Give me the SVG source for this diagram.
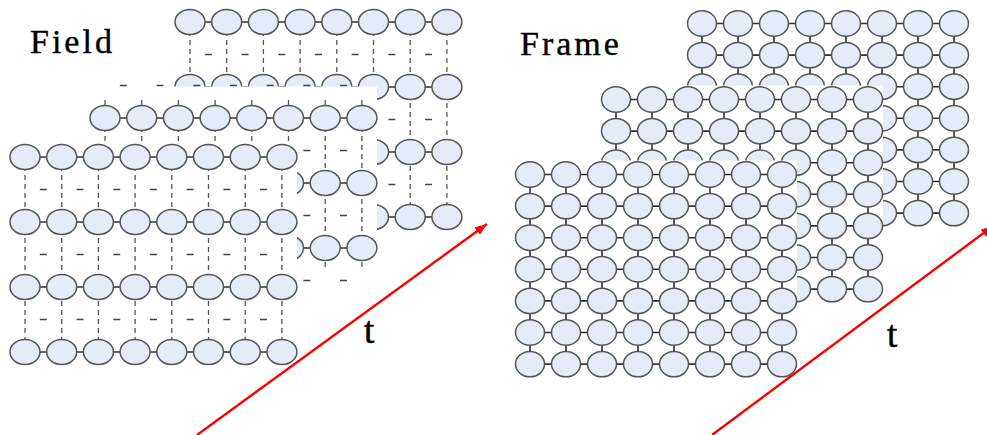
<svg xmlns="http://www.w3.org/2000/svg" xmlns:xlink="http://www.w3.org/1999/xlink" width="987" height="435" viewBox="0 0 987 435">
  <style>
    .bg { fill: #ffffff; }
    .node { fill: #e5ecf7; stroke: #555555; stroke-width: 1.5; }
    .link { fill: none; stroke: #2e2e2e; stroke-width: 1.6; }
    .vdash { fill: none; stroke: #555555; stroke-width: 1.3; stroke-dasharray: 5 4; }
    .hdash { fill: none; stroke: #444444; stroke-width: 1.6; }
    .label { font-family: "Liberation Serif", "Times New Roman", serif; font-size: 34px; fill: #000000; stroke: #000000; stroke-width: 0.4; letter-spacing: 3px; }
    .tlabel { font-family: "Liberation Serif", "Times New Roman", serif; font-size: 37px; fill: #000000; stroke: #000000; stroke-width: 0.5; }
    .arrow { fill: none; stroke: #ff0000; stroke-width: 2.4; }
  </style>
  <defs>
    <marker id="head" markerUnits="userSpaceOnUse" markerWidth="14" markerHeight="10" refX="12" refY="4.5" orient="auto">
      <path d="M0,0 L12,4.5 L0,9 z" fill="#ff0000"/>
    </marker>

    <!-- one row of the field lattice: 8 samples joined by solid links -->
    <g id="field-row">
      <line class="link" x1="0" y1="0" x2="256.9" y2="0"/>
      <ellipse class="node" cx="0" cy="0" rx="15" ry="12.5"/>
      <ellipse class="node" cx="36.7" cy="0" rx="15" ry="12.5"/>
      <ellipse class="node" cx="73.4" cy="0" rx="15" ry="12.5"/>
      <ellipse class="node" cx="110.1" cy="0" rx="15" ry="12.5"/>
      <ellipse class="node" cx="146.8" cy="0" rx="15" ry="12.5"/>
      <ellipse class="node" cx="183.5" cy="0" rx="15" ry="12.5"/>
      <ellipse class="node" cx="220.2" cy="0" rx="15" ry="12.5"/>
      <ellipse class="node" cx="256.9" cy="0" rx="15" ry="12.5"/>
    </g>
    <!-- missing (other-field) lines shown as short dashes between columns -->
    <path id="field-gap" class="hdash" d="M14.85 0h7M51.55 0h7M88.25 0h7M124.95 0h7M161.65 0h7M198.35 0h7M235.05 0h7"/>

    <!-- one row of the frame lattice -->
    <g id="frame-row">
      <line class="link" x1="0" y1="0" x2="252" y2="0"/>
      <ellipse class="node" cx="0" cy="0" rx="14.5" ry="12.7"/>
      <ellipse class="node" cx="36" cy="0" rx="14.5" ry="12.7"/>
      <ellipse class="node" cx="72" cy="0" rx="14.5" ry="12.7"/>
      <ellipse class="node" cx="108" cy="0" rx="14.5" ry="12.7"/>
      <ellipse class="node" cx="144" cy="0" rx="14.5" ry="12.7"/>
      <ellipse class="node" cx="180" cy="0" rx="14.5" ry="12.7"/>
      <ellipse class="node" cx="216" cy="0" rx="14.5" ry="12.7"/>
      <ellipse class="node" cx="252" cy="0" rx="14.5" ry="12.7"/>
    </g>
    <!-- full 8 x 7 frame with white backing -->
    <g id="frame-layer">
      <rect class="bg" x="-15" y="-14" width="282" height="217.6"/>
      <path class="link" d="M0 0V189.6M36 0V189.6M72 0V189.6M108 0V189.6M144 0V189.6M180 0V189.6M216 0V189.6M252 0V189.6"/>
      <use xlink:href="#frame-row" y="0"/>
      <use xlink:href="#frame-row" y="31.6"/>
      <use xlink:href="#frame-row" y="63.2"/>
      <use xlink:href="#frame-row" y="94.8"/>
      <use xlink:href="#frame-row" y="126.4"/>
      <use xlink:href="#frame-row" y="158"/>
      <use xlink:href="#frame-row" y="189.6"/>
    </g>
  </defs>

  <!-- ===== Field (interlaced) ===== -->
  <text class="label" x="30" y="53">Field</text>

  <g id="field-back" transform="translate(190,22)">
    <rect class="bg" x="-15" y="-13" width="287" height="223"/>
    <path class="vdash" d="M0 0V195M36.7 0V195M73.4 0V195M110.1 0V195M146.8 0V195M183.5 0V195M220.2 0V195M256.9 0V195"/>
    <use xlink:href="#field-gap" y="32.5"/>
    <use xlink:href="#field-gap" y="97.5"/>
    <use xlink:href="#field-gap" y="162.5"/>
    <use xlink:href="#field-row" y="0"/>
    <use xlink:href="#field-row" y="65"/>
    <use xlink:href="#field-row" y="130"/>
    <use xlink:href="#field-row" y="195"/>
  </g>

  <g id="field-middle" transform="translate(105,118)">
    <rect class="bg" x="-15" y="-31.5" width="287" height="202"/>
    <path class="vdash" d="M0 -18V150M36.7 -18V150M73.4 -18V150M110.1 -18V150M146.8 -18V150M183.5 -18V150M220.2 -18V150M256.9 -18V150"/>
    <use xlink:href="#field-gap" y="-32.5"/>
    <use xlink:href="#field-gap" y="32.5"/>
    <use xlink:href="#field-gap" y="97.5"/>
    <use xlink:href="#field-gap" y="162.5"/>
    <use xlink:href="#field-row" y="0"/>
    <use xlink:href="#field-row" y="65"/>
    <use xlink:href="#field-row" y="130"/>
  </g>

  <g id="field-front" transform="translate(25,157)">
    <rect class="bg" x="-25" y="-15" width="297" height="230"/>
    <path class="vdash" d="M0 0V195M36.7 0V195M73.4 0V195M110.1 0V195M146.8 0V195M183.5 0V195M220.2 0V195M256.9 0V195"/>
    <use xlink:href="#field-gap" y="32.5"/>
    <use xlink:href="#field-gap" y="97.5"/>
    <use xlink:href="#field-gap" y="162.5"/>
    <use xlink:href="#field-row" y="0"/>
    <use xlink:href="#field-row" y="65"/>
    <use xlink:href="#field-row" y="130"/>
    <use xlink:href="#field-row" y="195"/>
  </g>

  <!-- ===== Frame (progressive) ===== -->
  <text class="label" x="520" y="55">Frame</text>

  <g id="frame-back" transform="translate(702,23.5)">
    <use xlink:href="#frame-layer"/>
  </g>
  <g id="frame-middle" transform="translate(616,99.5)">
    <use xlink:href="#frame-layer"/>
  </g>
  <g id="frame-front" transform="translate(530,174.5)">
    <use xlink:href="#frame-layer"/>
  </g>

  <!-- time axes -->
  <g id="connectors">
    <line class="arrow" x1="197" y1="435" x2="487" y2="224" marker-end="url(#head)"/>
    <line class="arrow" x1="712" y1="435" x2="993" y2="226" marker-end="url(#head)"/>
  </g>
  <text class="tlabel" x="364" y="343">t</text>
  <text class="tlabel" x="887" y="347">t</text>
</svg>
